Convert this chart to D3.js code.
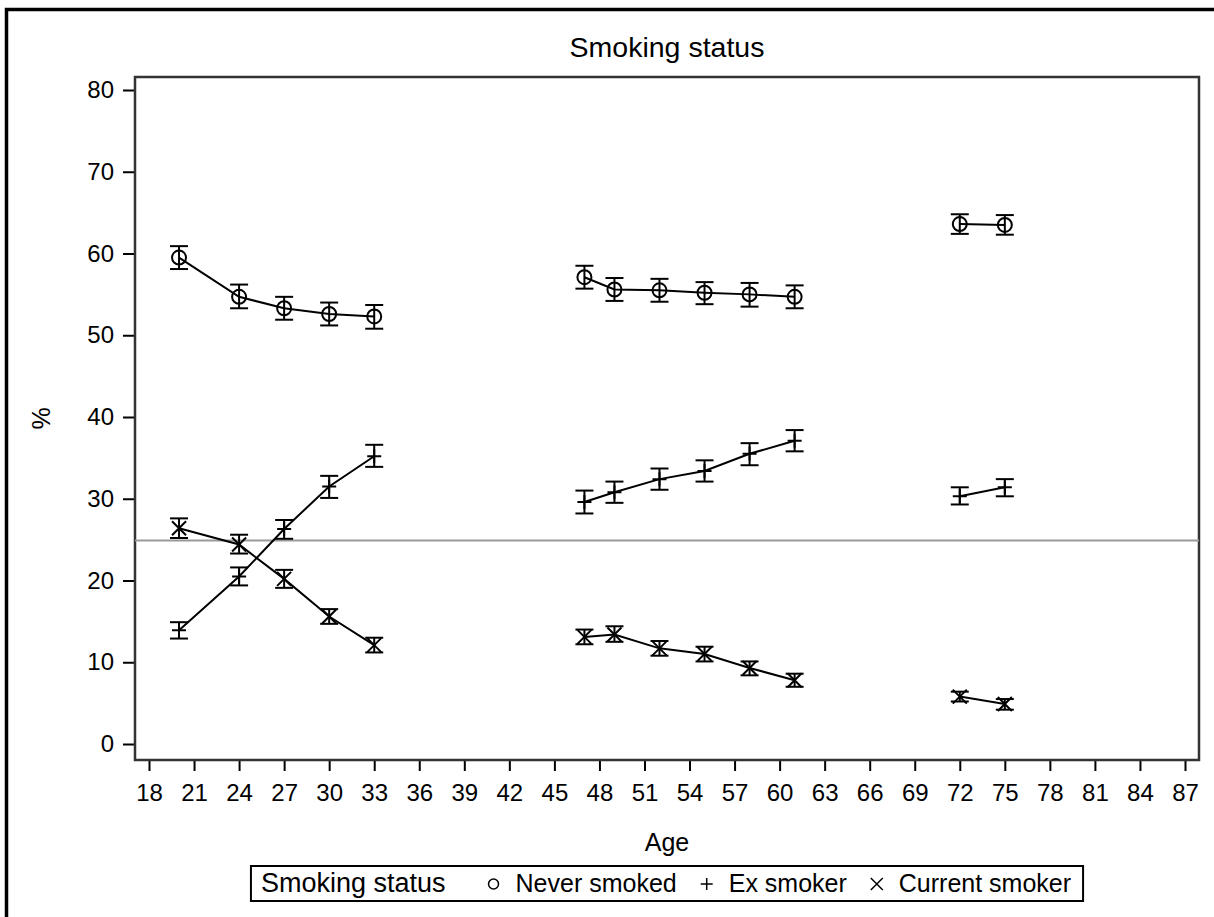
<!DOCTYPE html>
<html>
<head>
<meta charset="utf-8">
<script src="https://cdn.jsdelivr.net/npm/d3@7"></script>
<style>
    body { margin: 0; background: #fff; }
    text { font-family: "Liberation Sans", Arial, sans-serif; fill: #000; }
</style>
</head>
<body>
<svg id="container" width="1214" height="917"></svg>
<script>
var WIDTH = 1214;
var HEIGHT = 917;

// survey waves: ages at which each group was measured
var ages = [20, 24, 27, 30, 33, 47, 49, 52, 55, 58, 61, 72, 75];
var waves = [1, 1, 1, 1, 1, 2, 2, 2, 2, 2, 2, 3, 3];

var neverPct = [59.5, 54.7, 53.3, 52.6, 52.3, 57.1, 55.6, 55.5, 55.2, 55.0, 54.7, 63.6, 63.5];
var neverLo  = [58.1, 53.3, 51.9, 51.2, 50.8, 55.7, 54.2, 54.1, 53.8, 53.5, 53.3, 62.4, 62.3];
var neverHi  = [60.9, 56.2, 54.7, 54.0, 53.7, 58.5, 57.0, 56.9, 56.5, 56.4, 56.1, 64.8, 64.7];

var exPct = [13.9, 20.5, 26.3, 31.5, 35.2, 29.6, 30.8, 32.4, 33.4, 35.5, 37.1, 30.3, 31.4];
var exLo  = [12.9, 19.4, 25.1, 30.1, 33.9, 28.2, 29.5, 31.1, 32.1, 34.1, 35.8, 29.3, 30.3];
var exHi  = [14.9, 21.6, 27.4, 32.8, 36.6, 31.0, 32.1, 33.7, 34.7, 36.8, 38.4, 31.4, 32.4];

var curPct = [26.4, 24.4, 20.2, 15.6, 12.1, 13.1, 13.4, 11.7, 11.0, 9.3, 7.8, 5.8, 4.9];
var curLo  = [25.2, 23.3, 19.1, 14.7, 11.2, 12.2, 12.5, 10.8, 10.1, 8.4, 7.0, 5.2, 4.2];
var curHi  = [27.6, 25.6, 21.3, 16.5, 13.0, 14.0, 14.4, 12.6, 11.9, 10.1, 8.6, 6.4, 5.5];

var refValue = 24.9;

var xTicks = d3.range(18, 88, 3);
var yTicks = d3.range(0, 81, 10);
var seriesNames = ['Never smoked', 'Ex smoker', 'Current smoker'];
var seriesMarks = ['circle', 'plus', 'cross'];

var plot = { left: 135, right: 1199, top: 77, bottom: 760 };

var xScale = d3.scaleLinear().domain([18, 87]).range([149, 1185]);
var yScale = d3.scaleLinear().domain([0, 80]).range([744, 90]);

var svg = d3.select('#container');

// outer frame, cut off at right and bottom like the original export
svg.append('rect')
    .attr('x', 6.5).attr('y', 9.5)
    .attr('width', WIDTH + 20).attr('height', HEIGHT + 20)
    .attr('fill', 'none').attr('stroke', '#000').attr('stroke-width', 3.5);

svg.append('text')
    .attr('x', (plot.left + plot.right) / 2).attr('y', 57)
    .attr('text-anchor', 'middle')
    .style('font-size', '28.5px')
    .text('Smoking status');

var bottomAxis = d3.axisBottom(xScale).tickValues(xTicks).tickSize(11).tickPadding(13);
var leftAxis = d3.axisLeft(yScale).tickValues(yTicks).tickSize(12).tickPadding(9);

svg.append('g')
    .attr('id', 'x-axis')
    .attr('transform', 'translate(0,' + plot.bottom + ')')
    .call(bottomAxis);

svg.append('g')
    .attr('id', 'y-axis')
    .attr('transform', 'translate(' + plot.left + ',0)')
    .call(leftAxis);

svg.selectAll('.domain').remove();
svg.selectAll('.tick line').attr('stroke', '#000').attr('stroke-width', 2);
svg.selectAll('.tick text').style('font-size', '24px').attr('fill', '#000');

svg.append('rect')
    .attr('x', plot.left).attr('y', plot.top)
    .attr('width', plot.right - plot.left).attr('height', plot.bottom - plot.top)
    .attr('fill', 'none').attr('stroke', '#333').attr('stroke-width', 2.5);

// reference line
svg.append('line')
    .attr('x1', plot.left).attr('x2', plot.right)
    .attr('y1', yScale(refValue)).attr('y2', yScale(refValue))
    .attr('stroke', '#999').attr('stroke-width', 2);

var makeRows = function(pct, lo, hi){
    return ages.map(function(age, i){
        return { age: age, wave: waves[i], pct: pct[i], lo: lo[i], hi: hi[i] };
    });
};

var series = [
    makeRows(neverPct, neverLo, neverHi),
    makeRows(exPct, exLo, exHi),
    makeRows(curPct, curLo, curHi)
];

var line = d3.line()
    .x(function(d){ return xScale(d.age); })
    .y(function(d){ return yScale(d.pct); });

var drawMarker = function(g, kind, size){
    if (kind === 'circle') {
        g.append('circle').attr('r', size).attr('fill', 'none');
    } else if (kind === 'plus') {
        g.append('path').attr('d', 'M' + (-size) + ',0H' + size + 'M0,' + (-size) + 'V' + size);
    } else {
        g.append('path').attr('d', 'M' + (-size) + ',' + (-size) + 'L' + size + ',' + size +
            'M' + (-size) + ',' + size + 'L' + size + ',' + (-size));
    }
};

var points = svg.append('g').attr('id', 'points')
    .attr('stroke', '#000').attr('fill', 'none').attr('stroke-width', 2);

series.forEach(function(rows, s){
    var byWave = d3.groups(rows, function(d){ return d.wave; });
    byWave.forEach(function(w){
        points.append('path').attr('d', line(w[1]));
    });

    var caps = points.selectAll('.err' + s).data(rows).enter()
        .append('g')
        .attr('class', 'err' + s);
    caps.append('line')
        .attr('x1', function(d){ return xScale(d.age); })
        .attr('x2', function(d){ return xScale(d.age); })
        .attr('y1', function(d){ return yScale(d.lo); })
        .attr('y2', function(d){ return yScale(d.hi); });
    caps.append('line')
        .attr('x1', function(d){ return xScale(d.age) - 9; })
        .attr('x2', function(d){ return xScale(d.age) + 9; })
        .attr('y1', function(d){ return yScale(d.lo); })
        .attr('y2', function(d){ return yScale(d.lo); });
    caps.append('line')
        .attr('x1', function(d){ return xScale(d.age) - 9; })
        .attr('x2', function(d){ return xScale(d.age) + 9; })
        .attr('y1', function(d){ return yScale(d.hi); })
        .attr('y2', function(d){ return yScale(d.hi); });

    rows.forEach(function(d){
        var g = points.append('g')
            .attr('transform', 'translate(' + xScale(d.age) + ',' + yScale(d.pct) + ')');
        drawMarker(g, seriesMarks[s], s === 0 ? 7 : 7);
    });
});

// axis titles
svg.append('text')
    .attr('transform', 'translate(50,' + ((plot.top + plot.bottom) / 2) + ') rotate(-90)')
    .attr('text-anchor', 'middle')
    .style('font-size', '25px')
    .text('%');

svg.append('text')
    .attr('x', (plot.left + plot.right) / 2).attr('y', 851)
    .attr('text-anchor', 'middle')
    .style('font-size', '25px')
    .text('Age');

// legend, laid out left to right then centred under the plot
var legend = svg.append('g').attr('id', 'legend');
var legendY = 892;
var cursor = 10;
var legendTitle = legend.append('text')
    .attr('x', cursor).attr('y', legendY)
    .style('font-size', '27px')
    .text('Smoking status');
cursor += legendTitle.node().getComputedTextLength();

seriesNames.forEach(function(name, s){
    cursor += s === 0 ? 48 : 30;
    var g = legend.append('g')
        .attr('transform', 'translate(' + cursor + ',' + (legendY - 8) + ')')
        .attr('stroke', '#000').attr('fill', 'none').attr('stroke-width', 1.5);
    drawMarker(g, seriesMarks[s], s === 0 ? 5 : 6);
    cursor += 22;
    var t = legend.append('text')
        .attr('x', cursor).attr('y', legendY)
        .style('font-size', '25px')
        .text(name);
    cursor += t.node().getComputedTextLength();
});
cursor += 12;

legend.insert('rect', ':first-child')
    .attr('x', 0).attr('y', legendY - 26)
    .attr('width', cursor).attr('height', 35)
    .attr('fill', '#fff').attr('stroke', '#000').attr('stroke-width', 2);

legend.attr('transform', 'translate(' + ((plot.left + plot.right) / 2 - cursor / 2) + ',0)');
</script>
</body>
</html>
